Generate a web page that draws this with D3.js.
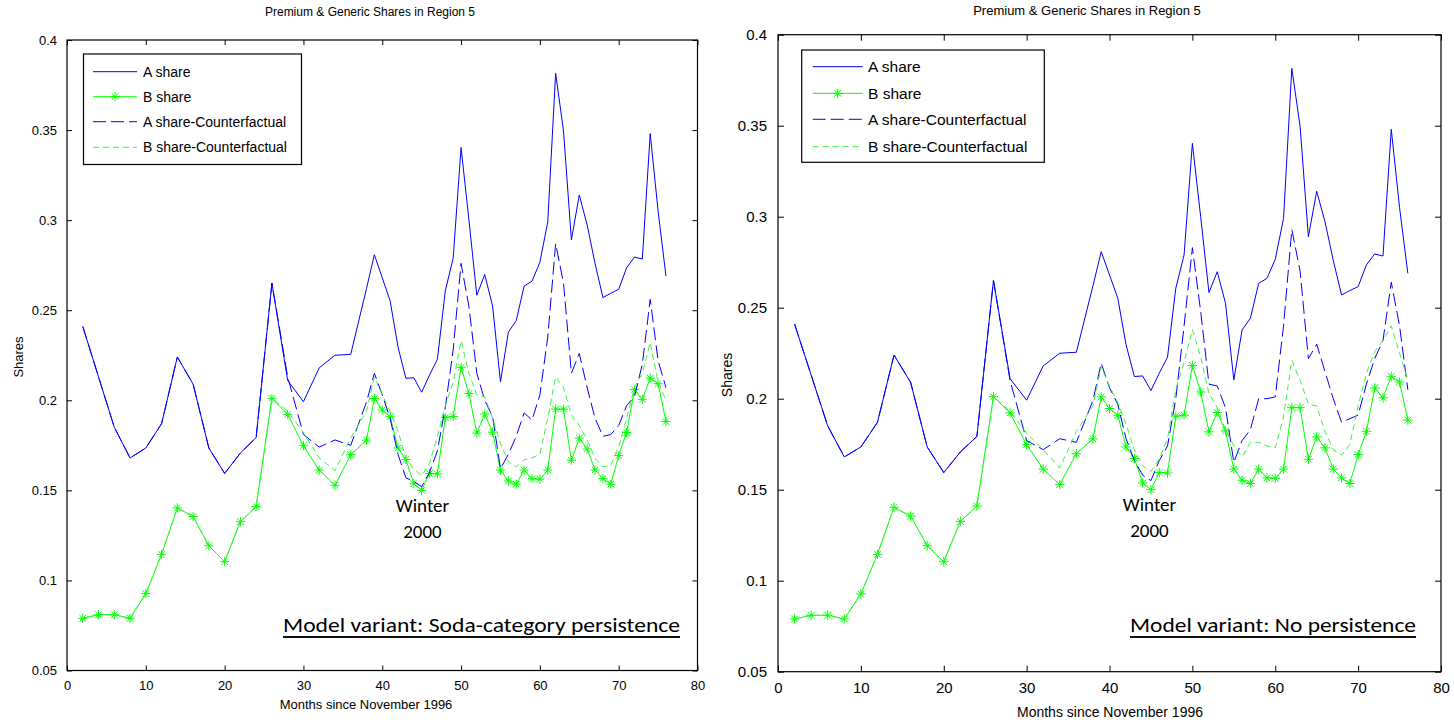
<!DOCTYPE html>
<html>
<head>
<meta charset="utf-8">
<script src="https://cdn.jsdelivr.net/npm/d3@7"></script>
<style>
  body { margin: 0; background: #fff; }
  svg { display: block; }
  text { font-family: "Liberation Sans", Arial, sans-serif; fill: #000; }
</style>
</head>
<body>
<svg id="chart" width="1454" height="723"></svg>
<script>
// ---------------- DATA ----------------
const months = [2,4,6,8,10,12,14,16,18,20,22,24,26,28,30,32,34,36,
  38,39,40,41,42,43,44,45,46,47,48,49,50,51,52,53,54,55,56,57,58,59,60,
  61,62,63,64,65,66,67,68,69,70,71,72,73,74,75,76];

const aShare = [0.241,0.213,0.185,0.168,0.1735,0.187,0.224,0.209,0.1735,0.1594,0.1707,0.1793,0.265,0.211,0.1992,0.218,0.225,0.2255,
  0.262,0.2808,0.268,0.2552,0.2296,0.2122,0.2125,0.2045,0.214,0.2228,0.2607,0.279,0.3403,0.300,0.2583,0.2698,0.2524,0.2103,0.2378,0.2442,0.2634,0.2661,0.2766,
  0.299,0.3815,0.3495,0.289,0.314,0.2973,0.276,0.257,0.2594,0.2616,0.2735,0.2795,0.2784,0.348,0.305,0.2689];

const bShare = [0.079,0.081,0.081,0.079,0.0927,0.1145,0.1403,0.1355,0.1192,0.1104,0.1326,0.141,0.2011,0.1922,0.1748,0.1613,0.1528,0.1698,
  0.1779,0.201,0.1946,0.1909,0.1735,0.1671,0.1537,0.150,0.1594,0.1592,0.1904,0.191,0.2183,0.2037,0.1818,0.1924,0.1823,0.1613,0.1552,0.1534,0.1613,0.1565,0.1562,
  0.1613,0.1951,0.1951,0.1667,0.179,0.173,0.1613,0.1565,0.1534,0.1693,0.1821,0.2059,0.2005,0.2123,0.2092,0.1882];

// Left panel: Soda-category persistence
const aCfPersist = [0.241,0.213,0.185,0.168,0.1735,0.187,0.224,0.209,0.1735,0.1594,0.1707,0.1793,0.265,0.213,0.181,0.174,0.178,0.175,
  0.199,0.215,0.203,0.19,0.17,0.157,0.155,0.152,0.16,0.172,0.196,0.228,0.276,0.252,0.215,0.2,0.191,0.162,0.17,0.18,0.193,0.189,0.203,
  0.235,0.287,0.265,0.215,0.226,0.207,0.19,0.18,0.181,0.186,0.197,0.202,0.22,0.256,0.222,0.207];

const bCfPersist = [0.079,0.081,0.081,0.079,0.0927,0.1145,0.1403,0.1355,0.1192,0.1104,0.1326,0.141,0.2011,0.194,0.182,0.168,0.161,0.179,
  0.194,0.213,0.203,0.194,0.183,0.168,0.162,0.158,0.165,0.18,0.197,0.21,0.233,0.215,0.203,0.202,0.19,0.176,0.166,0.163,0.167,0.168,0.17,
  0.19,0.213,0.207,0.192,0.186,0.178,0.168,0.163,0.164,0.174,0.19,0.207,0.215,0.232,0.21,0.2];

// Right panel: No persistence
const aCfNone = [0.241,0.213,0.185,0.168,0.1735,0.187,0.224,0.209,0.1735,0.1594,0.1707,0.1793,0.265,0.21,0.177,0.172,0.178,0.176,
  0.199,0.2195,0.206,0.197,0.178,0.166,0.158,0.155,0.166,0.174,0.2,0.24,0.283,0.248,0.208,0.207,0.195,0.165,0.177,0.183,0.2,0.2,0.201,
  0.24,0.293,0.27,0.222,0.23,0.215,0.2,0.187,0.189,0.191,0.208,0.222,0.232,0.264,0.24,0.205];

const bCfNone = [0.079,0.081,0.081,0.079,0.0927,0.1145,0.1403,0.1355,0.1192,0.1104,0.1326,0.141,0.2011,0.193,0.181,0.172,0.162,0.182,
  0.196,0.2175,0.207,0.198,0.186,0.172,0.163,0.16,0.167,0.178,0.205,0.22,0.238,0.223,0.203,0.195,0.183,0.174,0.168,0.176,0.176,0.174,0.173,
  0.19,0.221,0.21,0.197,0.196,0.182,0.172,0.169,0.175,0.196,0.214,0.226,0.232,0.24,0.225,0.21];

const xTicks = [0,10,20,30,40,50,60,70,80];
const yTicks = [0.05,0.1,0.15,0.2,0.25,0.3,0.35,0.4];
const yTickLabels = ["0.05","0.1","0.15","0.2","0.25","0.3","0.35","0.4"];
const legendLabels = ["A share","B share","A share-Counterfactual","B share-Counterfactual"];
const titleText = "Premium & Generic Shares in Region 5";
const xLabelText = "Months since November 1996";
const yLabelText = "Shares";
const variantLeft = "Model variant: Soda-category persistence";
const variantRight = "Model variant: No persistence";

// ---------------- STYLE ----------------
const BLUE = "#0000ff", GREEN = "#00ff00", GREEN_CF = "#3ef03e";
const DASH_A = "13,5", DASH_B = "6,4";

const svg = d3.select("#chart");

function star(g, cx, cy, r, color) {
  const d = r * 0.72;
  const p = `M${cx-r},${cy}L${cx+r},${cy}M${cx},${cy-r}L${cx},${cy+r}` +
            `M${cx-d},${cy-d}L${cx+d},${cy+d}M${cx-d},${cy+d}L${cx+d},${cy-d}`;
  g.append("path").attr("d", p).attr("stroke", color).attr("stroke-width", 1).attr("fill", "none");
}

function drawPanel(cfg) {
  const g = svg.append("g");
  const x = d3.scaleLinear().domain([0, 80]).range([cfg.x0, cfg.x1]);
  const y = d3.scaleLinear().domain([0.05, 0.4]).range([cfg.y1, cfg.y0]);
  const tl = cfg.tick;

  // frame
  g.append("rect").attr("x", cfg.x0).attr("y", cfg.y0)
    .attr("width", cfg.x1 - cfg.x0).attr("height", cfg.y1 - cfg.y0)
    .attr("fill", "#fff").attr("stroke", "#000").attr("stroke-width", 1.2);

  // axes with inward ticks
  const xb = d3.axisBottom(x).tickValues(xTicks).tickSizeInner(-tl).tickSizeOuter(0).tickPadding(tl + 5);
  const xt = d3.axisTop(x).tickValues(xTicks).tickSizeInner(-tl).tickSizeOuter(0).tickFormat("");
  const yl = d3.axisLeft(y).tickValues(yTicks).tickSizeInner(-tl).tickSizeOuter(0).tickPadding(tl + 5)
    .tickFormat((d, i) => yTickLabels[i]);
  const yr = d3.axisRight(y).tickValues(yTicks).tickSizeInner(-tl).tickSizeOuter(0).tickFormat("");

  const ax = [
    g.append("g").attr("transform", `translate(0,${cfg.y1})`).call(xb),
    g.append("g").attr("transform", `translate(0,${cfg.y0})`).call(xt),
    g.append("g").attr("transform", `translate(${cfg.x0},0)`).call(yl),
    g.append("g").attr("transform", `translate(${cfg.x1},0)`).call(yr)
  ];
  ax.forEach(a => {
    a.select(".domain").remove();
    a.selectAll("line").attr("stroke", "#000");
    a.selectAll("text").style("font-family", '"Liberation Sans", Arial, sans-serif')
      .style("font-size", cfg.tickFont + "px").attr("fill", "#000");
  });

  const line = (vals) => d3.line().x((d, i) => x(months[i])).y((d) => y(d))(vals);

  g.append("path").attr("d", line(aShare)).attr("fill", "none").attr("stroke", BLUE).attr("stroke-width", 1);
  g.append("path").attr("d", line(bShare)).attr("fill", "none").attr("stroke", GREEN).attr("stroke-width", 1);
  bShare.forEach((v, i) => star(g, x(months[i]), y(v), cfg.starR, GREEN));
  g.append("path").attr("d", line(cfg.aCf)).attr("fill", "none").attr("stroke", BLUE)
    .attr("stroke-width", 1).attr("stroke-dasharray", DASH_A);
  g.append("path").attr("d", line(cfg.bCf)).attr("fill", "none").attr("stroke", GREEN_CF)
    .attr("stroke-width", 1).attr("stroke-dasharray", DASH_B);

  // legend
  const L = cfg.legend;
  g.append("rect").attr("x", L.x0).attr("y", L.y0).attr("width", L.x1 - L.x0).attr("height", L.y1 - L.y0)
    .attr("fill", "#fff").attr("stroke", "#000").attr("stroke-width", 1.2);
  const styles = [
    {c: BLUE, dash: null, star: false},
    {c: GREEN, dash: null, star: true},
    {c: BLUE, dash: DASH_A, star: false},
    {c: GREEN_CF, dash: DASH_B, star: false}
  ];
  legendLabels.forEach((lab, i) => {
    const yy = L.rows[i];
    const ln = g.append("line").attr("x1", L.sx0).attr("x2", L.sx1).attr("y1", yy).attr("y2", yy)
      .attr("stroke", styles[i].c).attr("stroke-width", 1);
    if (styles[i].dash) ln.attr("stroke-dasharray", styles[i].dash);
    if (styles[i].star) star(g, (L.sx0 + L.sx1) / 2, yy, cfg.starR, GREEN);
    g.append("text").attr("x", L.tx).attr("y", yy).attr("dy", "0.35em")
      .style("font-size", L.font + "px").text(lab);
  });

  // titles & labels
  g.append("text").attr("x", cfg.titleX).attr("y", cfg.titleY).attr("text-anchor", "middle")
    .attr("dy", "0.35em").style("font-size", cfg.titleFont + "px").text(titleText);
  g.append("text").attr("x", cfg.xlabX).attr("y", cfg.xlabY).attr("text-anchor", "middle")
    .attr("dy", "0.35em").style("font-size", cfg.labFont + "px").text(xLabelText);
  g.append("text").attr("transform", `translate(${cfg.ylabX},${cfg.ylabY}) rotate(-90)`)
    .attr("text-anchor", "middle").attr("dy", "0.35em").style("font-size", cfg.labFont + "px").text(yLabelText);

  // annotations
  const calib = 'Carlito, Lato, "Open Sans", sans-serif';
  g.append("text").attr("x", cfg.winterX).attr("y", cfg.winterY1).attr("text-anchor", "middle")
    .style("font-family", calib).style("font-size", "19px").attr("fill", "#111").text("Winter");
  g.append("text").attr("x", cfg.winterX).attr("y", cfg.winterY2).attr("text-anchor", "middle")
    .style("font-family", calib).style("font-size", "19px").attr("fill", "#111").text("2000");
  g.append("text").attr("x", cfg.varX0).attr("y", cfg.varY)
    .attr("textLength", cfg.varX1 - cfg.varX0).attr("lengthAdjust", "spacingAndGlyphs")
    .style("font-family", calib).style("font-size", "21px").attr("fill", "#111").text(cfg.variant);
  g.append("line").attr("x1", cfg.varX0).attr("x2", cfg.varX1).attr("y1", cfg.varY + 5).attr("y2", cfg.varY + 5)
    .attr("stroke", "#111").attr("stroke-width", 2);
}

drawPanel({
  x0: 67, x1: 697.5, y0: 40, y1: 670.5, tick: 5, tickFont: 13, starR: 4.5,
  aCf: aCfPersist, bCf: bCfPersist,
  legend: {x0: 83.5, y0: 54, x1: 301.5, y1: 164.5, sx0: 93, sx1: 137, tx: 143,
           rows: [71.7, 96.7, 121.7, 147.3], font: 14},
  titleX: 370, titleY: 12, titleFont: 12,
  xlabX: 366, xlabY: 704, labFont: 13,
  ylabX: 18, ylabY: 357,
  winterX: 422.5, winterY1: 512, winterY2: 538,
  varX0: 283, varX1: 680, varY: 632, variant: variantLeft
});

drawPanel({
  x0: 778, x1: 1441, y0: 34.7, y1: 671.7, tick: 6, tickFont: 15, starR: 4.7,
  aCf: aCfNone, bCf: bCfNone,
  legend: {x0: 801.7, y0: 50, x1: 1044.3, y1: 162.3, sx0: 812.7, sx1: 862.7, tx: 868,
           rows: [66.7, 93.3, 119.3, 146.7], font: 15.5},
  titleX: 1087, titleY: 10, titleFont: 13,
  xlabX: 1110, xlabY: 712, labFont: 14,
  ylabX: 727, ylabY: 375,
  winterX: 1149.5, winterY1: 511, winterY2: 536.5,
  varX0: 1130, varX1: 1416, varY: 632, variant: variantRight
});
</script>
</body>
</html>
